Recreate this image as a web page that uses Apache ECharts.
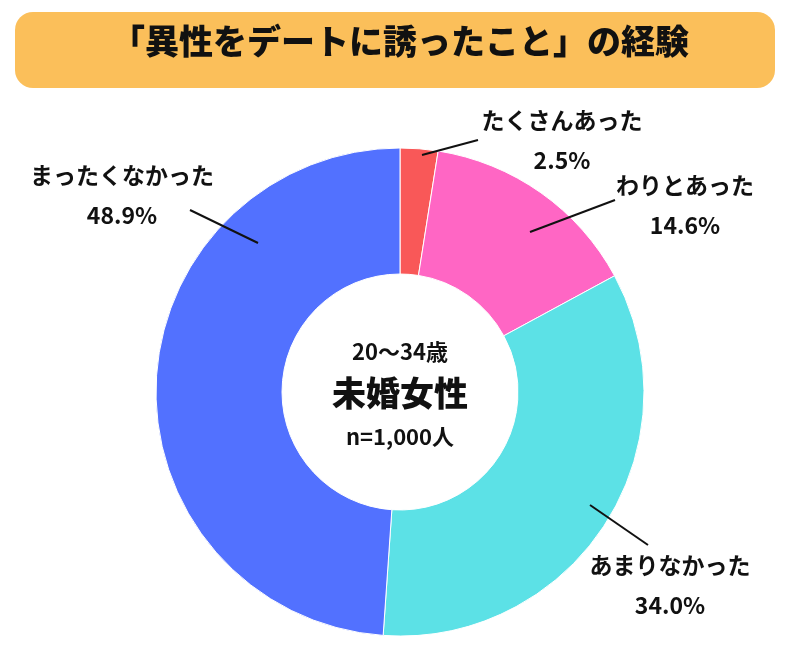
<!DOCTYPE html>
<html><head><meta charset="utf-8">
<script src="https://cdn.jsdelivr.net/npm/echarts@6/dist/echarts.min.js"></script>
<style>html,body{margin:0;padding:0;background:#fff}#c{width:800px;height:650px}</style>
</head><body><div id="c"></div>
<script>
const categories = ['たくさんあった','わりとあった','あまりなかった','まったくなかった'];
const values = [2.5, 14.6, 34.0, 48.9];
const colors = ['#F95858','#FF66C4','#5CE1E6','#5271FF'];
const labelPos = [[562,140],[685,205],[670,585],[122,195]];
const leaderLines = [[422,155,478,140],[530,232,615,200],[590,505,648,545],[258,243,190,210]];
const F = '"Noto Sans CJK JP", sans-serif';
const chart = echarts.init(document.getElementById('c'));
chart.setOption({
  animation:false,
  graphic:[
    {type:'rect',shape:{x:15,y:12,width:760,height:76,r:18},style:{fill:'#FBBF5A'}},
    {type:'text',left:'center',top:24,style:{text:'「異性をデートに誘ったこと」の経験',font:'900 34px '+F,fill:'#111'}},
    {type:'text',x:400,y:352,style:{text:'20〜34歳',font:'bold 22px '+F,fill:'#111',align:'center',verticalAlign:'middle'}},
    {type:'text',x:400,y:393,style:{text:'未婚女性',font:'900 34px '+F,fill:'#111',align:'center',verticalAlign:'middle'}},
    {type:'text',x:400,y:437,style:{text:'n=1,000人',font:'bold 22px '+F,fill:'#111',align:'center',verticalAlign:'middle'}}
  ].concat(leaderLines.map(l=>({type:'line',z:10,shape:{x1:l[0],y1:l[1],x2:l[2],y2:l[3]},style:{stroke:'#111',lineWidth:2}}))),
  series:[{
    type:'pie',center:[400,392],radius:[118,244],startAngle:90,clockwise:true,
    itemStyle:{borderColor:'#fff',borderWidth:1},
    data:categories.map((n,i)=>({name:n,value:values[i],itemStyle:{color:colors[i]}})),
    label:{show:true,position:'outside',formatter:p=>p.name+'\n'+p.value.toFixed(1)+'%',overflow:'none',width:300,
      fontFamily:F,fontWeight:'bold',fontSize:23,color:'#111',lineHeight:40,align:'center'},
    labelLine:{show:false},
    labelLayout:p=>({x:labelPos[p.dataIndex][0],y:labelPos[p.dataIndex][1],align:'center',verticalAlign:'middle',moveOverlap:false})
  }]
});
</script></body></html>
